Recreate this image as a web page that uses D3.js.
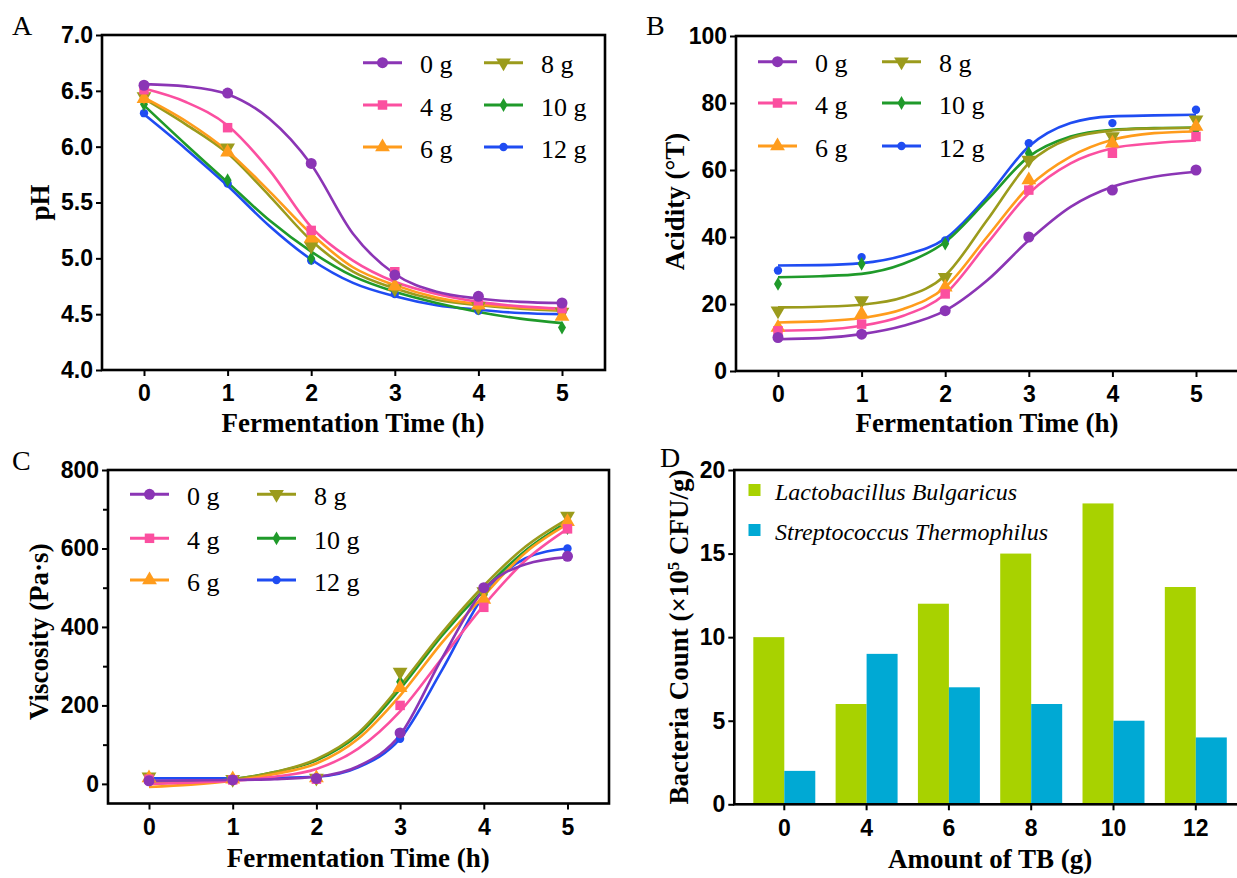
<!DOCTYPE html>
<html>
<head>
<meta charset="utf-8">
<script src="https://cdn.jsdelivr.net/npm/d3@7"></script>
<style>
  body { margin: 0; background: #fff; }
  svg { display: block; font-family: 'Liberation Serif', 'Times New Roman', serif; }
  .axis text { font-size: 23px; font-weight: bold; fill: #000; }
  .axis line { stroke: #000; stroke-width: 2; }
  .title { font-size: 27px; font-weight: bold; fill: #000; }
  .legend text { font-size: 26px; fill: #000; }
  .letter { font-size: 28px; fill: #000; }
</style>
</head>
<body>
<div id="chart"></div>
<script>
// ---- data ----
const times = [0, 1, 2, 3, 4, 5];
const fitTimes = [0, 0.5, 1, 1.5, 2, 2.5, 3, 3.5, 4, 4.5, 5];
const groups = ['0 g', '4 g', '6 g', '8 g', '10 g', '12 g'];
const groupColors = ['#8b35b5', '#fb4fa0', '#ff9c1c', '#9b9b1c', '#1f9a2a', '#1f4cf2'];

// pH (panel A) - measured points and fitted curves, one row per group
const phPoints = [
  [6.55, 6.48, 5.85, 4.85, 4.66, 4.60],
  [6.51, 6.17, 5.25, 4.88, 4.62, 4.55],
  [6.43, 5.95, 5.18, 4.75, 4.58, 4.48],
  [6.45, 5.99, 5.11, 4.73, 4.57, 4.52],
  [6.38, 5.70, 5.00, 4.72, 4.55, 4.38],
  [6.30, 5.67, 4.98, 4.68, 4.53, 4.51]
];
const phFit = [
  [6.56, 6.54, 6.47, 6.25, 5.84, 5.22, 4.86, 4.70, 4.64, 4.61, 4.60],
  [6.52, 6.40, 6.19, 5.79, 5.28, 4.98, 4.79, 4.68, 4.61, 4.57, 4.55],
  [6.44, 6.23, 5.96, 5.60, 5.22, 4.92, 4.76, 4.65, 4.59, 4.56, 4.54],
  [6.43, 6.20, 5.94, 5.56, 5.16, 4.88, 4.73, 4.63, 4.58, 4.55, 4.53],
  [6.37, 6.02, 5.68, 5.34, 5.06, 4.84, 4.70, 4.60, 4.52, 4.46, 4.42],
  [6.29, 5.98, 5.65, 5.29, 4.99, 4.78, 4.66, 4.58, 4.54, 4.51, 4.50]
];

// acidity (panel B)
const acidPoints = [
  [10, 11, 18, 40, 54, 60],
  [12, 14, 23, 54, 65, 70],
  [13, 17, 25, 57, 68, 73],
  [18, 21, 28, 63, 70, 75],
  [26, 32, 38, 65, 69, 72],
  [30, 34, 39, 68, 74, 78]
];
const acidFit = [
  [9.5, 9.8, 11, 13.5, 18, 27, 39, 49, 55, 58, 59.5],
  [12, 12.3, 13.5, 16.5, 23, 38, 53, 62, 66.5, 68, 68.8],
  [14.5, 14.8, 15.8, 18.5, 25, 40, 55, 64, 69, 71, 71.5],
  [19, 19.2, 19.8, 22, 28.5, 45, 62, 69.5, 71.8, 72.4, 72.6],
  [28, 28.3, 29, 32, 38.5, 51, 64, 70, 72, 72.5, 72.7],
  [31.5, 31.6, 32.2, 34.5, 39.5, 52, 67, 74, 76, 76.3, 76.5]
];

// viscosity (panel C)
const viscPoints = [
  [8, 10, 14, 130, 500, 580],
  [12, 10, 12, 200, 450, 650],
  [15, 12, 15, 245, 470, 668],
  [18, 12, 15, 285, 490, 683],
  [14, 12, 14, 260, 482, 652],
  [12, 14, 16, 115, 498, 600]
];
const viscFit = [
  [8, 9, 10, 12, 18, 45, 125, 320, 495, 560, 578],
  [0, 3, 8, 18, 38, 90, 185, 320, 455, 570, 650],
  [-8, -2, 8, 25, 52, 115, 225, 360, 480, 590, 662],
  [2, 5, 12, 30, 63, 130, 250, 385, 505, 605, 675],
  [2, 5, 12, 30, 60, 125, 242, 378, 495, 595, 668],
  [14, 14, 14, 15, 18, 42, 115, 290, 480, 575, 600]
];

// bacteria count (panel D)
const tbAmounts = ['0', '4', '6', '8', '10', '12'];
const lactobacillus = [10, 6, 12, 15, 18, 13];
const streptococcus = [2, 9, 7, 6, 5, 4];
const bacteriaNames = ['Lactobacillus Bulgaricus', 'Streptococcus Thermophilus'];
const bacteriaColors = ['#a8d200', '#00a9d4'];

// ---- drawing ----
const W = 1237, H = 878;
const svg = d3.select('#chart').append('svg').attr('width', W).attr('height', H);
svg.append('rect').attr('width', W).attr('height', H).attr('fill', '#fff');

const symbolOf = [
  { type: d3.symbolCircle, size: 95, rot: 0 },
  { type: d3.symbolSquare, size: 90, rot: 0 },
  { type: d3.symbolTriangle, size: 95, rot: 0 },
  { type: d3.symbolTriangle, size: 95, rot: 180 },
  { type: d3.symbolDiamond, size: 55, rot: 0 },
  { type: d3.symbolCircle, size: 55, rot: 0 }
];

function frame(g, left, top, right, bottom) {
  g.append('rect')
    .attr('x', left).attr('y', top)
    .attr('width', right - left).attr('height', bottom - top)
    .attr('fill', 'none').attr('stroke', '#000').attr('stroke-width', 2.6);
}

function yTitle(g, text, cx, cy) {
  return g.append('text').attr('class', 'title')
    .attr('transform', `translate(${cx + 9},${cy}) rotate(-90)`)
    .attr('text-anchor', 'middle')
    .text(text);
}

function drawLinePanel(p) {
  const g = svg.append('g');
  const x = d3.scaleLinear().domain([0, 5]).range([p.x0, p.x5]);
  const y = d3.scaleLinear().domain(p.yDomain).range([p.bottom, p.top]);

  g.append('g').attr('class', 'axis')
    .attr('transform', `translate(${p.left},0)`)
    .call(d3.axisLeft(y).tickValues(p.yTicks).tickFormat(p.yFmt).tickSize(6).tickPadding(3).tickSizeOuter(0))
    .call(a => a.select('.domain').remove());
  if (p.minor) {
    g.append('g').attr('class', 'axis')
      .attr('transform', `translate(${p.left},0)`)
      .call(d3.axisLeft(y).tickValues(p.minor).tickFormat('').tickSize(5).tickSizeOuter(0))
      .call(a => a.select('.domain').remove());
  }
  g.append('g').attr('class', 'axis')
    .attr('transform', `translate(0,${p.bottom})`)
    .call(d3.axisBottom(x).tickValues(times).tickFormat(d3.format('d')).tickSize(6).tickPadding(9).tickSizeOuter(0))
    .call(a => a.select('.domain').remove());

  frame(g, p.left, p.top, p.right, p.bottom);

  const line = d3.line().x(d => x(d[0])).y(d => y(d[1])).curve(d3.curveMonotoneX);
  const order = d3.range(groups.length).reverse();

  order.forEach(i => {
    g.append('path')
      .datum(fitTimes.map((t, k) => [t, p.fit[i][k]]))
      .attr('d', line)
      .attr('fill', 'none')
      .attr('stroke', groupColors[i])
      .attr('stroke-width', 2.6);
  });
  order.forEach(i => {
    const s = symbolOf[i];
    g.append('g').selectAll('path')
      .data(times.map((t, k) => [t, p.points[i][k]]))
      .join('path')
      .attr('d', d3.symbol().type(s.type).size(s.size))
      .attr('transform', d => `translate(${x(d[0])},${y(d[1])}) rotate(${s.rot})`)
      .attr('fill', groupColors[i]);
  });

  // x title
  g.append('text').attr('class', 'title')
    .attr('x', (p.x0 + p.x5) / 2).attr('y', p.xTitleY)
    .attr('text-anchor', 'middle')
    .text('Fermentation Time (h)');
  yTitle(g, p.yTitle, p.yTitleX, (p.top + p.bottom) / 2 + p.yTitleShift);

  g.append('text').attr('class', 'letter')
    .attr('x', p.letterX).attr('y', p.letterY).text(p.letter);

  // legend: two columns of three
  const lg = g.append('g').attr('class', 'legend');
  groups.forEach((name, i) => {
    const col = Math.floor(i / 3), row = i % 3;
    const lx = p.legCols[col], ly = p.legRows[row];
    lg.append('line')
      .attr('x1', lx).attr('x2', lx + 39).attr('y1', ly).attr('y2', ly)
      .attr('stroke', groupColors[i]).attr('stroke-width', 3);
    const s = symbolOf[i];
    lg.append('path')
      .attr('d', d3.symbol().type(s.type).size(s.size)())
      .attr('transform', `translate(${lx + 19.5},${ly}) rotate(${s.rot})`)
      .attr('fill', groupColors[i]);
    lg.append('text')
      .attr('x', lx + 57).attr('y', ly + 10.5)
      .text(name);
  });
}

drawLinePanel({
  left: 102, right: 605, top: 35, bottom: 370, x0: 144, x5: 562,
  yDomain: [4, 7], yTicks: d3.range(4, 7.01, 0.5), yFmt: d3.format('.1f'),
  points: phPoints, fit: phFit,
  xTitleY: 432, yTitle: 'pH', yTitleX: 40, yTitleShift: 0,
  letter: 'A', letterX: 12, letterY: 35,
  legCols: [363, 484], legRows: [62.7, 105, 147]
});

drawLinePanel({
  left: 736, right: 1246, top: 36, bottom: 371, x0: 778, x5: 1196,
  yDomain: [0, 100], yTicks: d3.range(0, 101, 20), yFmt: d3.format('d'),
  points: acidPoints, fit: acidFit,
  xTitleY: 432, yTitle: 'Acidity (°T)', yTitleX: 675, yTitleShift: -2,
  letter: 'B', letterX: 646, letterY: 35,
  legCols: [758, 882], legRows: [61.7, 103, 146]
});

drawLinePanel({
  left: 108, right: 609, top: 470, bottom: 803.5, x0: 149, x5: 567.5,
  yDomain: [-50, 800], yTicks: d3.range(0, 801, 200), yFmt: d3.format('d'),
  minor: [100, 300, 500, 700],
  points: viscPoints, fit: viscFit,
  xTitleY: 867, yTitle: 'Viscosity (Pa·s)', yTitleX: 39, yTitleShift: -5,
  letter: 'C', letterX: 12, letterY: 470,
  legCols: [130, 257], legRows: [494.3, 538.3, 580]
});

// ---- panel D: grouped bars ----
(function () {
  const left = 734.3, right = 1245.8, top = 470, bottom = 804.3;
  const g = svg.append('g');
  const x0 = d3.scaleBand().domain(tbAmounts).range([left, right])
    .paddingInner(0.247).paddingOuter(0.231);
  const x1 = d3.scaleBand().domain([0, 1]).range([0, x0.bandwidth()]);
  const y = d3.scaleLinear().domain([0, 20]).range([bottom, top]);
  const series = [lactobacillus, streptococcus];

  series.forEach((vals, s) => {
    g.append('g').selectAll('rect')
      .data(vals)
      .join('rect')
      .attr('x', (d, i) => x0(tbAmounts[i]) + x1(s))
      .attr('y', d => y(d))
      .attr('width', x1.bandwidth())
      .attr('height', d => y(0) - y(d))
      .attr('fill', bacteriaColors[s]);
  });

  g.append('g').attr('class', 'axis')
    .attr('transform', `translate(${left},0)`)
    .call(d3.axisLeft(y).tickValues([0, 5, 10, 15, 20]).tickSize(6).tickPadding(3).tickSizeOuter(0))
    .call(a => a.select('.domain').remove());
  g.append('g').attr('class', 'axis')
    .attr('transform', `translate(0,${bottom})`)
    .call(d3.axisBottom(x0).tickSize(6).tickPadding(9).tickSizeOuter(0))
    .call(a => a.select('.domain').remove());
  frame(g, left, top, right, bottom);

  g.append('text').attr('class', 'title')
    .attr('x', x0('0') + x0.bandwidth() / 2 + (x0('12') - x0('0')) / 2).attr('y', 868)
    .attr('text-anchor', 'middle')
    .text('Amount of TB (g)');

  const t = yTitle(g, '', 679, 637);
  t.append('tspan').text('Bacteria Count (×10');
  t.append('tspan').attr('dy', -9).attr('font-size', 17).text('5');
  t.append('tspan').attr('dy', 9).text(' CFU/g)');

  g.append('text').attr('class', 'letter').attr('x', 660).attr('y', 467).text('D');

  const lg = g.append('g');
  bacteriaNames.forEach((name, i) => {
    const ly = [490, 530][i];
    lg.append('rect').attr('x', 748.5).attr('y', ly - 6).attr('width', 12).attr('height', 12)
      .attr('fill', bacteriaColors[i]);
    lg.append('text').attr('x', 775).attr('y', ly + 9.5)
      .attr('font-size', 24).attr('font-style', 'italic')
      .text(name);
  });
})();
</script>
</body>
</html>
